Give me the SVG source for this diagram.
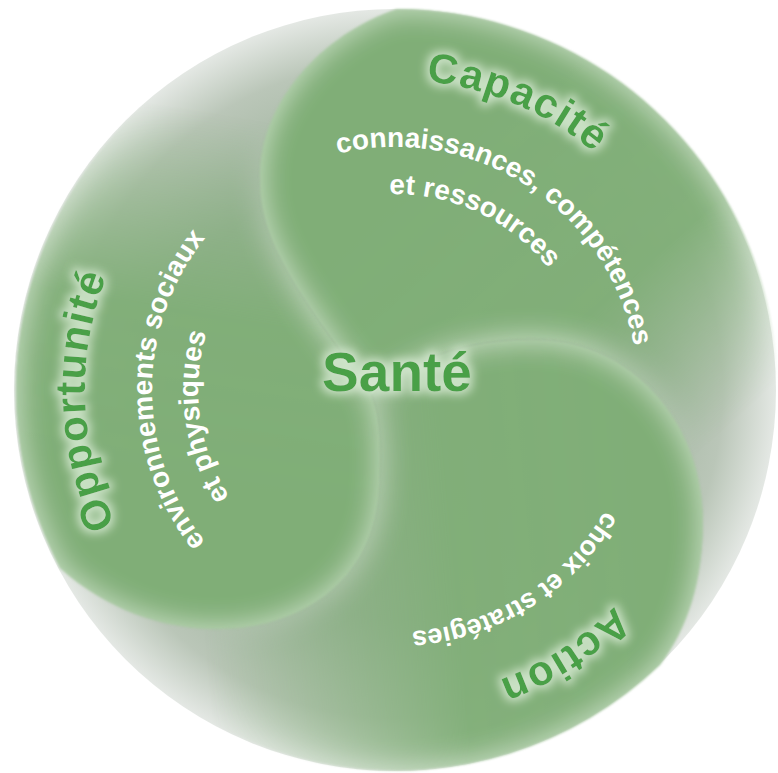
<svg xmlns="http://www.w3.org/2000/svg" width="778" height="773" viewBox="0 0 778 773">
  <style>
    .head { font-family: "Liberation Sans", Arial, sans-serif; font-weight: bold; font-size: 42px; fill: #4aa046; letter-spacing: 1.5px; }
    .sub { font-family: "Liberation Sans", Arial, sans-serif; font-weight: bold; font-size: 28px; fill: #ffffff; }
    .blob { fill: #80ae77; }
  </style>
  <defs>
    <radialGradient id="bgGrad" gradientUnits="userSpaceOnUse" cx="395" cy="390" r="381">
      <stop offset="0" stop-color="#93ae90"/>
      <stop offset="0.6" stop-color="#9fb49d"/>
      <stop offset="0.86" stop-color="#bac6b8"/>
      <stop offset="1" stop-color="#e4e8e4"/>
    </radialGradient>
    <filter id="innerGlow" x="-5%" y="-5%" width="110%" height="110%">
      <feGaussianBlur in="SourceAlpha" stdDeviation="15" result="b"/>
      <feComponentTransfer in="b" result="inv">
        <feFuncA type="table" tableValues="1 0"/>
      </feComponentTransfer>
      <feFlood flood-color="#cbe2c6" result="f"/>
      <feComposite in="f" in2="inv" operator="in" result="g"/>
      <feComposite in="g" in2="SourceAlpha" operator="in" result="ig"/>
      <feMerge result="m"><feMergeNode in="SourceGraphic"/><feMergeNode in="ig"/></feMerge>
      <feGaussianBlur in="m" stdDeviation="0.8"/>
    </filter>
    <filter id="halo" x="-20%" y="-30%" width="140%" height="160%">
      <feMorphology in="SourceAlpha" operator="dilate" radius="3" result="d"/>
      <feGaussianBlur in="d" stdDeviation="5" result="b"/>
      <feFlood flood-color="#d8ebd4" flood-opacity="0.85"/>
      <feComposite in2="b" operator="in" result="h"/>
      <feMerge><feMergeNode in="h"/><feMergeNode in="SourceGraphic"/></feMerge>
    </filter>
    <linearGradient id="gCap" gradientUnits="userSpaceOnUse" x1="420" y1="180" x2="680" y2="470">
      <stop offset="0" stop-color="#fff"/>
      <stop offset="0.55" stop-color="#fff" stop-opacity="0.95"/>
      <stop offset="0.85" stop-color="#fff" stop-opacity="0.3"/>
      <stop offset="1" stop-color="#fff" stop-opacity="0"/>
    </linearGradient>
    <linearGradient id="gAct" gradientUnits="userSpaceOnUse" x1="640" y1="560" x2="200" y2="600">
      <stop offset="0" stop-color="#fff"/>
      <stop offset="0.42" stop-color="#fff" stop-opacity="0.95"/>
      <stop offset="1" stop-color="#fff" stop-opacity="0"/>
    </linearGradient>
    <linearGradient id="gOpp" gradientUnits="userSpaceOnUse" x1="200" y1="480" x2="260" y2="120">
      <stop offset="0" stop-color="#fff"/>
      <stop offset="0.45" stop-color="#fff" stop-opacity="0.95"/>
      <stop offset="0.85" stop-color="#fff" stop-opacity="0.25"/>
      <stop offset="1" stop-color="#fff" stop-opacity="0"/>
    </linearGradient>
    <mask id="mCap" maskUnits="userSpaceOnUse" x="0" y="0" width="778" height="773"><rect width="778" height="773" fill="url(#gCap)"/></mask>
    <mask id="mAct" maskUnits="userSpaceOnUse" x="0" y="0" width="778" height="773"><rect width="778" height="773" fill="url(#gAct)"/></mask>
    <mask id="mOpp" maskUnits="userSpaceOnUse" x="0" y="0" width="778" height="773"><rect width="778" height="773" fill="url(#gOpp)"/></mask>

    <path id="pCap" d="M150.7,199.1 A310,310 0 0 1 702.0,433.2"/>
    <path id="pCon" d="M232.4,209.4 A243,243 0 0 1 626.1,465.1"/>
    <path id="pRes" d="M244.9,264.0 A196,196 0 0 1 588.0,424.0"/>
    <path id="pOpp" d="M325.3,692.1 A310,310 0 0 1 304.4,93.5"/>
    <path id="pEnv" d="M332.1,624.7 A243,243 0 0 1 332.1,155.3"/>
    <path id="pPhy" d="M371.0,585.5 A197,197 0 0 1 318.0,208.7"/>
    <path id="pAct" d="M688.7,297.4 A308,308 0 0 1 186.9,617.1"/>
    <path id="pCho" d="M626.4,319.2 A242,242 0 0 1 230.0,567.0"/>
  </defs>

  <g id="circle-bg">
    <circle cx="395" cy="390" r="381" fill="url(#bgGrad)"/>
  </g>

  <g id="blob-opportunite" mask="url(#mOpp)">
    <path class="blob" filter="url(#innerGlow)" d="M372,395 C380,415 382,440 380,484 C377,560 332,606 268,623 C200,640 120,622 60,568 A381,381 0 0 1 397,9 C320,35 258,105 260,180 C258,250 318,318 372,395 Z"/>
  </g>
  <g id="blob-capacite" mask="url(#mCap)">
    <path class="blob" filter="url(#innerGlow)" d="M397,9 C320,35 258,105 260,180 C258,250 318,318 372,395 C420,350 490,336 550,340 C640,348 703,430 703,520 C703,580 688,628 660,665 A381,381 0 0 0 397,9 Z"/>
  </g>
  <g id="blob-action" mask="url(#mAct)">
    <path class="blob" filter="url(#innerGlow)" d="M372,395 C420,350 490,336 550,340 C640,348 703,430 703,520 C703,580 688,628 660,665 A381,381 0 0 1 60,568 C120,622 200,640 268,623 C332,606 377,560 380,484 C382,440 380,415 372,395 Z"/>
  </g>

  <g id="label-capacite">
    <text class="head" filter="url(#halo)"><textPath href="#pCap" startOffset="50%" text-anchor="middle">Capacité</textPath></text>
    <text class="sub"><textPath href="#pCon" startOffset="50%" text-anchor="middle">connaissances, compétences</textPath></text>
    <text class="sub"><textPath href="#pRes" startOffset="50%" text-anchor="middle">et ressources</textPath></text>
  </g>
  <g id="label-opportunite">
    <text class="head" filter="url(#halo)"><textPath href="#pOpp" startOffset="50%" text-anchor="middle">Opportunité</textPath></text>
    <text class="sub"><textPath href="#pEnv" startOffset="50%" text-anchor="middle">environnements sociaux</textPath></text>
    <text class="sub"><textPath href="#pPhy" startOffset="50%" text-anchor="middle">et physiques</textPath></text>
  </g>
  <g id="label-action">
    <text class="head" filter="url(#halo)"><textPath href="#pAct" startOffset="50%" text-anchor="middle">Action</textPath></text>
    <text class="sub" style="font-size:27px"><textPath href="#pCho" startOffset="50%" text-anchor="middle">choix et stratégies</textPath></text>
  </g>
  <g id="label-sante">
    <text x="397" y="391" text-anchor="middle" filter="url(#halo)" style="font-family:'Liberation Sans', Arial, sans-serif; font-weight:bold; font-size:55px; fill:#4aa046">Santé</text>
  </g>
</svg>
